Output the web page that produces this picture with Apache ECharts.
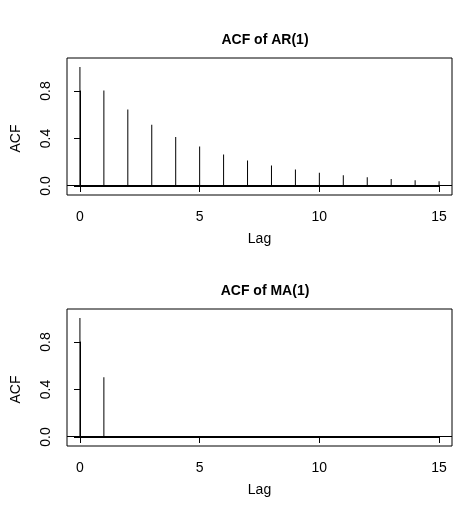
<!DOCTYPE html>
<html><head><meta charset="utf-8">
<script src="https://cdn.jsdelivr.net/npm/echarts@6/dist/echarts.min.js"></script>
<style>html,body{margin:0;padding:0;background:#fff}#c{width:475px;height:517px}</style>
</head><body><div id="c"></div>
<script>
const lags = [0,1,2,3,4,5,6,7,8,9,10,11,12,13,14,15];
const acfAR = [1,0.8,0.64,0.512,0.41,0.328,0.262,0.21,0.168,0.134,0.107,0.086,0.069,0.055,0.044,0.035];
const acfMA = [1,0.5,0,0,0,0,0,0,0,0,0,0,0,0,0,0];
const titles = ['ACF of AR(1)','ACF of MA(1)'];
const yTicks = [0.0,0.4,0.8];
const xTicks = [0,5,10,15];
const font = 'Liberation Sans, Arial, sans-serif';
const chart = echarts.init(document.getElementById('c'));
const panels = [{top:58, vals:acfAR},{top:309, vals:acfMA}];
const grid=[],xAxis=[],yAxis=[],series=[],title=[];
panels.forEach((p,i)=>{
  const z = p.top + 128; // y of 0.0
  grid.push({left:67,right:23,top:p.top,height:137,show:true,borderColor:'#000',borderWidth:1,backgroundColor:'transparent',outerBoundsMode:'none',containLabel:false});
  grid.push({left:80,width:359,top:z-95,height:95,outerBoundsMode:'none',containLabel:false});
  xAxis.push({type:'value',gridIndex:2*i,min:-0.54,max:15.54,show:false});
  yAxis.push({type:'value',gridIndex:2*i,min:-0.08,max:1.075,show:false});
  xAxis.push({type:'value',gridIndex:2*i+1,min:0,max:15,interval:5,offset:18,
    axisLine:{show:true,lineStyle:{color:'#000'}},axisTick:{show:true,length:6,lineStyle:{color:'#000'}},
    axisLabel:{color:'#000',fontSize:14,fontFamily:font,margin:6},splitLine:{show:false},
    name:'Lag',nameLocation:'middle',nameGap:28,nameTextStyle:{color:'#000',fontSize:14,fontFamily:font}});
  yAxis.push({type:'value',gridIndex:2*i+1,min:0,max:0.8,interval:0.4,offset:21,
    axisLine:{show:true,lineStyle:{color:'#000'}},axisTick:{show:true,length:6,lineStyle:{color:'#000'}},
    axisLabel:{color:'#000',fontSize:14,fontFamily:font,rotate:90,margin:6,formatter:v=>v.toFixed(1)},splitLine:{show:false},
    name:'ACF',nameLocation:'middle',nameGap:36,nameTextStyle:{color:'#000',fontSize:14,fontFamily:font}});
  series.push({type:'bar',xAxisIndex:2*i,yAxisIndex:2*i,barWidth:1,itemStyle:{color:'#000'},
    data:lags.map((l,k)=>[l,p.vals[k]]),
    markLine:{silent:true,symbol:'none',label:{show:false},lineStyle:{color:'#000',type:'solid',width:1},data:[{yAxis:0}]}});
  title.push({text:titles[i],left:260,textAlign:'center',top:p.top-30,textStyle:{fontSize:14,fontWeight:'bold',fontFamily:font,color:'#000'}});
});
chart.setOption({animation:false,title,grid,xAxis,yAxis,series});
</script></body></html>
